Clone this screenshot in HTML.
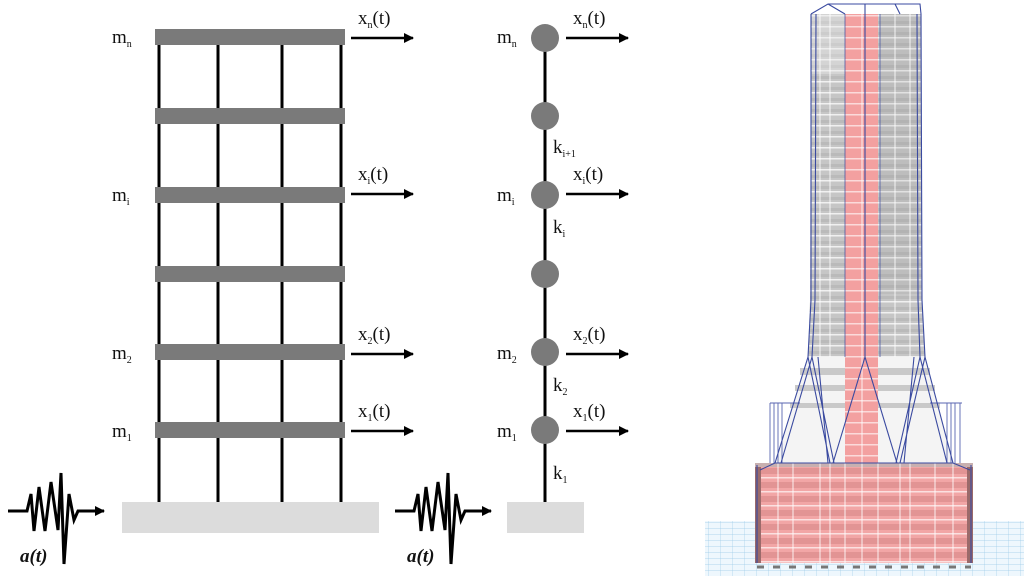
<!DOCTYPE html>
<html><head><meta charset="utf-8"><style>
html,body{margin:0;padding:0;background:#fff;}
svg{display:block;}
text{font-family:"Liberation Serif",serif;fill:#111;}
</style></head><body>
<svg width="1024" height="576" viewBox="0 0 1024 576" xmlns="http://www.w3.org/2000/svg">
<defs>
<marker id="ah" markerWidth="10" markerHeight="10" refX="9" refY="5" orient="auto" markerUnits="userSpaceOnUse">
<path d="M0,0 L10,5 L0,10 Z" fill="#000"/></marker>
<pattern id="grid" width="12" height="6" patternUnits="userSpaceOnUse">
<path d="M0,0 H12 M0,0 V6" stroke="#9ccbe8" stroke-width="0.7" fill="none"/></pattern>
<pattern id="floors" width="20" height="11" patternUnits="userSpaceOnUse" y="4">
<rect width="20" height="11" fill="#c6c6c6"/>
<rect y="0" width="20" height="1.5" fill="#f0f0f0"/>
<rect y="6" width="20" height="3" fill="#a8a8a8" opacity="0.4"/></pattern>
<pattern id="bfloors" width="20" height="14" patternUnits="userSpaceOnUse" y="463">
<rect width="20" height="14" fill="#f2a6a6"/>
<rect y="5" width="20" height="6" fill="#e29494"/>
<rect y="0" width="20" height="1.5" fill="#fbe0e0"/></pattern>
<pattern id="cfloors" width="20" height="11" patternUnits="userSpaceOnUse" y="4">
<rect width="20" height="11" fill="#f3a0a0"/>
<rect y="0" width="20" height="1.5" fill="#fbdada"/></pattern>
</defs>

<!-- Frame -->
<rect x="122" y="502" width="257" height="31" fill="#dcdcdc"/>
<g stroke="#000" stroke-width="3">
<line x1="159" y1="37" x2="159" y2="502"/>
<line x1="218" y1="37" x2="218" y2="502"/>
<line x1="282" y1="37" x2="282" y2="502"/>
<line x1="341" y1="37" x2="341" y2="502"/>
</g>
<g fill="#7a7a7a">
<rect x="155" y="29" width="190" height="16"/>
<rect x="155" y="108" width="190" height="16"/>
<rect x="155" y="187" width="190" height="16"/>
<rect x="155" y="266" width="190" height="16"/>
<rect x="155" y="344" width="190" height="16"/>
<rect x="155" y="422" width="190" height="16"/>
</g>
<g stroke="#000" stroke-width="2.5" marker-end="url(#ah)">
<line x1="351" y1="38" x2="413" y2="38"/>
<line x1="351" y1="194" x2="413" y2="194"/>
<line x1="351" y1="354" x2="413" y2="354"/>
<line x1="351" y1="431" x2="413" y2="431"/>
<line x1="566" y1="38" x2="628" y2="38"/>
<line x1="566" y1="194" x2="628" y2="194"/>
<line x1="566" y1="354" x2="628" y2="354"/>
<line x1="566" y1="431" x2="628" y2="431"/>
</g>
<g font-size="19">
<text x="112" y="43">m<tspan font-size="10" dy="4">n</tspan></text>
<text x="112" y="201">m<tspan font-size="10" dy="4">i</tspan></text>
<text x="112" y="359">m<tspan font-size="10" dy="4">2</tspan></text>
<text x="112" y="437">m<tspan font-size="10" dy="4">1</tspan></text>
<text x="358" y="24">x<tspan font-size="10" dy="4">n</tspan><tspan dy="-4">(t)</tspan></text>
<text x="358" y="180">x<tspan font-size="10" dy="4">i</tspan><tspan dy="-4">(t)</tspan></text>
<text x="358" y="340">x<tspan font-size="10" dy="4">2</tspan><tspan dy="-4">(t)</tspan></text>
<text x="358" y="417">x<tspan font-size="10" dy="4">1</tspan><tspan dy="-4">(t)</tspan></text>

<text x="497" y="43">m<tspan font-size="10" dy="4">n</tspan></text>
<text x="497" y="201">m<tspan font-size="10" dy="4">i</tspan></text>
<text x="497" y="359">m<tspan font-size="10" dy="4">2</tspan></text>
<text x="497" y="437">m<tspan font-size="10" dy="4">1</tspan></text>
<text x="573" y="24">x<tspan font-size="10" dy="4">n</tspan><tspan dy="-4">(t)</tspan></text>
<text x="573" y="180">x<tspan font-size="10" dy="4">i</tspan><tspan dy="-4">(t)</tspan></text>
<text x="573" y="340">x<tspan font-size="10" dy="4">2</tspan><tspan dy="-4">(t)</tspan></text>
<text x="573" y="417">x<tspan font-size="10" dy="4">1</tspan><tspan dy="-4">(t)</tspan></text>
<text x="553" y="153">k<tspan font-size="10" dy="4">i+1</tspan></text>
<text x="553" y="233">k<tspan font-size="10" dy="4">i</tspan></text>
<text x="553" y="391">k<tspan font-size="10" dy="4">2</tspan></text>
<text x="553" y="479">k<tspan font-size="10" dy="4">1</tspan></text>
</g>

<!-- Stick model -->
<rect x="507" y="502" width="77" height="31" fill="#dcdcdc"/>
<line x1="545" y1="37" x2="545" y2="502" stroke="#000" stroke-width="3"/>
<g fill="#7a7a7a">
<circle cx="545" cy="38" r="14"/><circle cx="545" cy="116" r="14"/>
<circle cx="545" cy="195" r="14"/><circle cx="545" cy="274" r="14"/>
<circle cx="545" cy="352" r="14"/><circle cx="545" cy="430" r="14"/>
</g>

<!-- Waves -->
<g fill="none" stroke="#000" stroke-width="3" stroke-linejoin="miter">
<polyline points="8,511 27,511 31,494 34,531 39,487 45,531 51,482 58,530 61,473 64,564 69,494 74,520 78,511 104,511" marker-end="url(#ah)"/>
<polyline points="395,511 414,511 418,494 421,531 426,487 432,531 438,482 445,530 448,473 451,564 456,494 461,520 465,511 491,511" marker-end="url(#ah)"/>
</g>
<text x="20" y="562" font-size="19" font-weight="bold" font-style="italic">a(t)</text>
<text x="407" y="562" font-size="19" font-weight="bold" font-style="italic">a(t)</text>

<!-- Tower -->
<rect x="705" y="521" width="319" height="55" fill="#eef7fd"/>
<rect x="705" y="521" width="319" height="55" fill="url(#grid)"/>
<path d="M811,14 L921,14 L922,300 L925,357 L808,357 L810,300 Z" fill="url(#floors)"/>
<rect x="880" y="14" width="41" height="280" fill="#8a8a8a" opacity="0.15"/>
<rect x="812" y="14" width="33" height="60" fill="#e8e8e8" opacity="0.4"/>
<path d="M808,357 L925,357 L953,463 L775,463 Z" fill="#f4f4f4"/>
<g fill="#c9c9c9">
<rect x="800" y="368" width="130" height="7"/>
<rect x="795" y="385" width="140" height="6"/>
<rect x="790" y="403" width="150" height="5"/>
</g>
<g stroke="#5a66b0" stroke-width="0.9">
<line x1="770" y1="403" x2="770" y2="463"/><line x1="774" y1="403" x2="774" y2="463"/>
<line x1="778" y1="403" x2="778" y2="463"/><line x1="782" y1="403" x2="782" y2="463"/>
<line x1="947" y1="403" x2="947" y2="463"/><line x1="951" y1="403" x2="951" y2="463"/>
<line x1="955" y1="403" x2="955" y2="463"/><line x1="960" y1="403" x2="960" y2="463"/>
<line x1="770" y1="403" x2="800" y2="403"/><line x1="930" y1="403" x2="962" y2="403"/>
</g>
<rect x="845" y="14" width="33" height="450" fill="url(#cfloors)"/>
<rect x="755" y="463" width="218" height="100" fill="url(#bfloors)"/>
<rect x="755" y="463" width="6" height="100" fill="#9b6a6a"/>
<rect x="967" y="463" width="6" height="100" fill="#9b6a6a"/>
<rect x="755" y="463" width="218" height="4" fill="#c8b0b0"/>
<g stroke="#fff" stroke-width="1" opacity="0.85">
<line x1="778" y1="463" x2="778" y2="563"/><line x1="793" y1="463" x2="793" y2="563"/>
<line x1="820" y1="463" x2="820" y2="563"/><line x1="830" y1="463" x2="830" y2="563"/>
<line x1="845" y1="463" x2="845" y2="563"/><line x1="878" y1="463" x2="878" y2="563"/>
<line x1="900" y1="463" x2="900" y2="563"/><line x1="910" y1="463" x2="910" y2="563"/>
<line x1="935" y1="463" x2="935" y2="563"/><line x1="953" y1="463" x2="953" y2="563"/>
<line x1="862" y1="14" x2="862" y2="563"/>
<line x1="830" y1="14" x2="830" y2="357"/><line x1="895" y1="14" x2="895" y2="357"/>
<line x1="910" y1="14" x2="910" y2="357"/><line x1="820" y1="14" x2="820" y2="357"/>
</g>
<g fill="none" stroke="#3a4aa0" stroke-width="1.1">
<path d="M811,14 L811,300 L808,357 L775,463"/>
<path d="M816,14 L815,300 L812,357 L781,463"/>
<path d="M921,14 L922,300 L925,357 L953,463"/>
<path d="M917,14 L918,300 L920,357 L947,463"/>
<path d="M811,14 L828,4 L920,4 L921,14 M828,4 L845,14 M895,4 L900,14"/>
<line x1="865" y1="4" x2="865" y2="357"/><line x1="880" y1="14" x2="880" y2="357" stroke-width="0.7"/>
<line x1="845" y1="14" x2="845" y2="357" stroke-width="0.7"/>
<path d="M808,357 L830,463 M812,357 L834,463 M818,357 L828,463"/>
<path d="M925,357 L900,463 M920,357 L896,463 M914,357 L904,463"/>
<path d="M865,357 L833,463 M865,357 L897,463"/>
<path d="M760,470 L775,463 L953,463 L970,470"/>
<line x1="757" y1="465" x2="757" y2="563"/><line x1="971" y1="465" x2="971" y2="563"/>
</g>
<line x1="757" y1="567" x2="971" y2="567" stroke="#777" stroke-width="3" stroke-dasharray="7,9"/>
</svg>
</body></html>
